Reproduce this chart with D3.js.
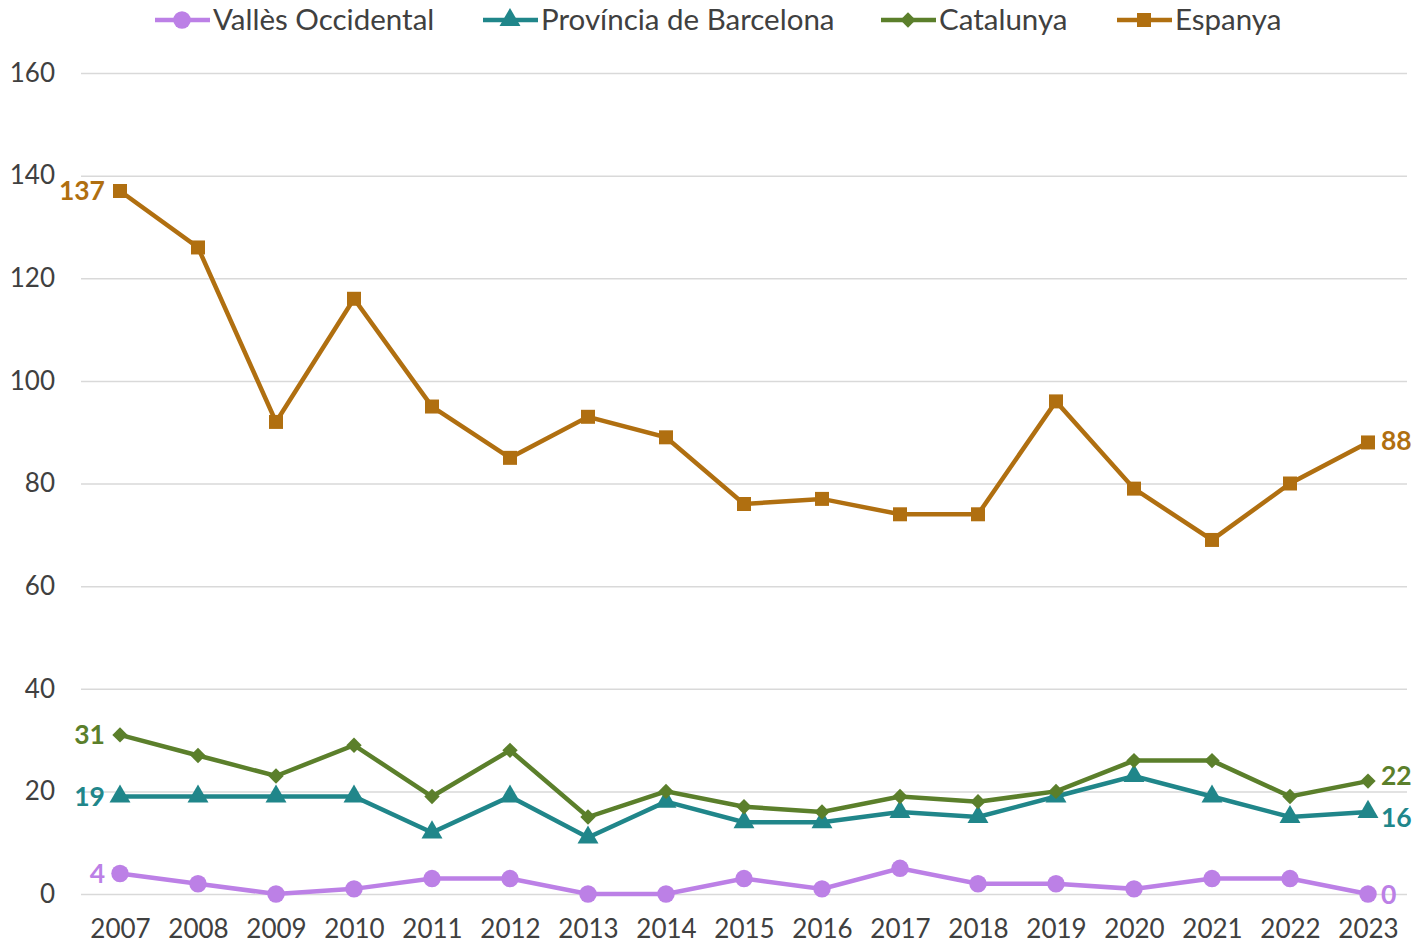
<!DOCTYPE html>
<html>
<head>
<meta charset="utf-8">
<script src="https://cdn.jsdelivr.net/npm/d3@7"></script>
<style>
  body { margin: 0; background: #fff; }
  svg { display: block; font-family: Lato, "Open Sans", sans-serif; }
  .grid line { stroke: #d9d9d9; stroke-width: 1.5; }
  .tick text { fill: #404040; font-size: 26px; font-family: Lato, "Open Sans", sans-serif; }
</style>
</head>
<body>
<svg id="chart" width="1413" height="943"></svg>
<script>
var years = ["2007","2008","2009","2010","2011","2012","2013","2014","2015","2016","2017","2018","2019","2020","2021","2022","2023"];
var valles    = [4, 2, 0, 1, 3, 3, 0, 0, 3, 1, 5, 2, 2, 1, 3, 3, 0];
var provincia = [19, 19, 19, 19, 12, 19, 11, 18, 14, 14, 16, 15, 19, 23, 19, 15, 16];
var catalunya = [31, 27, 23, 29, 19, 28, 15, 20, 17, 16, 19, 18, 20, 26, 26, 19, 22];
var espanya   = [137, 126, 92, 116, 95, 85, 93, 89, 76, 77, 74, 74, 96, 79, 69, 80, 88];
var yTicks = [0, 20, 40, 60, 80, 100, 120, 140, 160];

// endDy: vertical nudge of the last-point label; rot: marker rotation
var series = [
  { name: "Vallès Occidental",      values: valles,    color: "#bc80e6", symbol: d3.symbolCircle,   size: 240, rot: 0,  endDy: 1 },
  { name: "Província de Barcelona", values: provincia, color: "#20868a", symbol: d3.symbolTriangle, size: 190, rot: 0,  endDy: 6 },
  { name: "Catalunya",              values: catalunya, color: "#5b7f2b", symbol: d3.symbolSquare,   size: 118, rot: 45, endDy: -5 },
  { name: "Espanya",                values: espanya,   color: "#b06f10", symbol: d3.symbolSquare,   size: 196, rot: 0,  endDy: -2 }
];

var svg = d3.select("#chart");
var plotLeft = 81, plotRight = 1407, plotTop = 73, plotBottom = 894;

var x = d3.scalePoint().domain(years).range([plotLeft, plotRight]).padding(0.5);
var y = d3.scaleLinear().domain([0, 160]).range([plotBottom, plotTop]);

// ── Grid + y axis ──────────────────────────────────────────────
svg.append("g")
  .attr("class", "grid")
  .attr("transform", "translate(" + plotLeft + ",0)")
  .call(d3.axisLeft(y).tickValues(yTicks).tickSize(-(plotRight - plotLeft)).tickFormat(""))
  .call(function (g) { g.select(".domain").remove(); });

svg.append("g")
  .attr("transform", "translate(" + plotLeft + ",0)")
  .call(d3.axisLeft(y).tickValues(yTicks).tickSize(0).tickPadding(26))
  .call(function (g) { g.select(".domain").remove(); });

// ── X axis ─────────────────────────────────────────────────────
svg.append("g")
  .attr("transform", "translate(0," + plotBottom + ")")
  .call(d3.axisBottom(x).tickSize(0).tickPadding(26))
  .call(function (g) { g.select(".domain").remove(); });

// ── Lines and markers ──────────────────────────────────────────
var line = d3.line()
  .x(function (d, i) { return x(years[i]); })
  .y(function (d) { return y(d); });

series.forEach(function (s) {
  svg.append("path")
    .attr("d", line(s.values))
    .attr("fill", "none")
    .attr("stroke", s.color)
    .attr("stroke-width", 4.5);

  svg.selectAll(null)
    .data(s.values)
    .enter()
    .append("path")
    .attr("transform", function (d, i) {
      return "translate(" + x(years[i]) + "," + y(d) + ") rotate(" + s.rot + ")";
    })
    .attr("d", d3.symbol().type(s.symbol).size(s.size))
    .attr("fill", s.color);

  // first and last labels
  var n = s.values.length;
  svg.append("text")
    .attr("x", x(years[0]) - 15)
    .attr("y", y(s.values[0]))
    .attr("dy", "0.35em")
    .attr("text-anchor", "end")
    .attr("fill", s.color)
    .attr("font-size", 26.5)
    .attr("font-weight", "bold")
    .text(s.values[0]);

  svg.append("text")
    .attr("x", x(years[n - 1]) + 13)
    .attr("y", y(s.values[n - 1]) + s.endDy)
    .attr("dy", "0.35em")
    .attr("fill", s.color)
    .attr("font-size", 26.5)
    .attr("font-weight", "bold")
    .text(s.values[n - 1]);
});

// ── Legend ─────────────────────────────────────────────────────
var legendX = [155, 483, 881, 1117];
series.forEach(function (s, i) {
  var g = svg.append("g").attr("transform", "translate(" + legendX[i] + ",20)");
  g.append("line").attr("x1", 0).attr("x2", 55).attr("stroke", s.color).attr("stroke-width", 4.5);
  g.append("path")
    .attr("transform", "translate(27,0) rotate(" + s.rot + ")")
    .attr("d", d3.symbol().type(s.symbol).size(s.size))
    .attr("fill", s.color);
  g.append("text")
    .attr("x", 58)
    .attr("dy", "0.35em")
    .attr("fill", "#404040")
    .attr("font-size", 29.5)
    .text(s.name);
});
</script>
</body>
</html>
